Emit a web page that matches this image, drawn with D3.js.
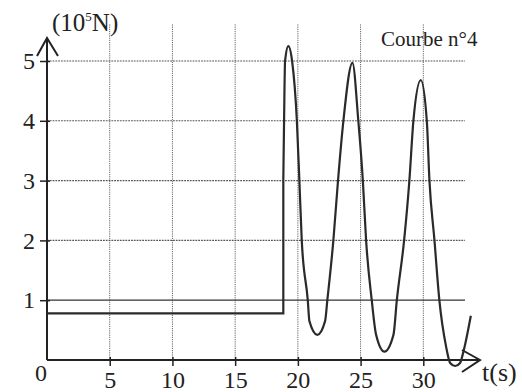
<!DOCTYPE html>
<html>
<head>
<meta charset="utf-8">
<script src="https://cdn.jsdelivr.net/npm/d3@7"></script>
<style>
  body { margin: 0; background: #fff; }
  svg text { font-family: "Liberation Serif", "Times New Roman", serif; fill: #222; }
</style>
</head>
<body>
<div id="chart"></div>
<script>
// tick values
var xTicks = [5, 10, 15, 20, 25, 30];
var yTicks = [1, 2, 3, 4, 5];

// plateau before the release (t in s, F in 10^5 N)
var plateauT = [0, 18.84, 18.84];
var plateauF = [0.78, 0.78, 3.0];

// oscillation
var oscT = [18.84, 18.90, 18.98, 19.24, 19.54, 19.92, 20.12, 20.31, 20.79, 20.92, 21.55, 22.17, 22.35, 22.83, 23.20, 23.63, 24.35, 24.82, 25.18, 25.44, 25.89, 26.24, 26.90, 27.62, 27.89, 28.47, 28.89, 29.21, 29.80, 30.28, 30.49, 30.89, 31.28, 31.82, 32.14, 32.54, 32.93, 33.20, 33.79];
var oscF = [3.0, 4.0, 5.0, 5.25, 5.0, 4.0, 3.0, 2.0, 1.0, 0.65, 0.42, 0.65, 1.0, 2.0, 3.0, 4.0, 4.97, 4.0, 3.0, 2.0, 1.0, 0.42, 0.14, 0.42, 1.0, 2.0, 3.0, 4.0, 4.68, 4.0, 3.0, 2.0, 1.0, 0.22, -0.05, -0.1, -0.05, 0.14, 0.74];

var width = 522, height = 392;

var svg = d3.select("#chart").append("svg")
    .attr("width", width)
    .attr("height", height);

svg.append("rect").attr("width", width).attr("height", height).attr("fill", "#fff");

var x = d3.scaleLinear().domain([0, 30]).range([47, 423.3]);
var y = d3.scaleLinear().domain([0, 5]).range([360, 61]);

var gridTop = 24, gridRight = 465;
var serif = "Liberation Serif, Times New Roman, serif";

// grid
svg.selectAll(".vgrid")
    .data(xTicks)
  .enter().append("line")
    .attr("class", "vgrid")
    .attr("x1", function(d) { return x(d); })
    .attr("x2", function(d) { return x(d); })
    .attr("y1", y(0))
    .attr("y2", gridTop)
    .attr("stroke", "#666")
    .attr("stroke-width", 1)
    .attr("stroke-dasharray", "1.2,1");

svg.selectAll(".hgrid")
    .data(yTicks)
  .enter().append("line")
    .attr("class", "hgrid")
    .attr("x1", x(0))
    .attr("x2", gridRight)
    .attr("y1", function(d) { return y(d); })
    .attr("y2", function(d) { return y(d); })
    .attr("stroke", function(d) { return d == 1 ? "#333" : "#555"; })
    .attr("stroke-width", function(d) { return d == 1 ? 1.3 : 1.1; })
    .attr("stroke-dasharray", function(d) { return d == 1 ? null : "1.8,1"; });

// axes (ticks + labels)
var xAxis = svg.append("g")
    .attr("transform", "translate(0," + y(0) + ")")
    .call(d3.axisBottom(x).tickValues(xTicks).tickSize(6).tickPadding(5).tickFormat(d3.format("d")));
xAxis.attr("font-family", serif).attr("font-size", 24);
xAxis.select(".domain").remove();
xAxis.selectAll("line").attr("stroke", "#222").attr("stroke-width", 1.5).attr("y1", -3);
xAxis.selectAll("text").attr("fill", "#222");

var yAxis = svg.append("g")
    .attr("transform", "translate(" + x(0) + ",0)")
    .call(d3.axisLeft(y).tickValues(yTicks).tickSize(7).tickPadding(5).tickFormat(d3.format("d")));
yAxis.attr("font-family", serif).attr("font-size", 24);
yAxis.select(".domain").remove();
yAxis.selectAll("line").attr("stroke", "#222").attr("stroke-width", 1.5).attr("x1", 3);
yAxis.selectAll("text").attr("fill", "#222");

// axis lines with open arrows
var axisG = svg.append("g").attr("stroke", "#222").attr("fill", "none").attr("stroke-width", 2);
axisG.append("line").attr("x1", x(0)).attr("x2", 480).attr("y1", y(0)).attr("y2", y(0));
axisG.append("line").attr("x1", x(0)).attr("x2", x(0)).attr("y1", y(0)).attr("y2", 38);
axisG.append("path").attr("d", "M" + (x(0) - 10) + ",56L" + x(0) + ",38L" + (x(0) + 11) + ",56");
axisG.append("path").attr("d", "M462," + (y(0) - 10) + "L480," + y(0) + "L462," + (y(0) + 12));

// curve
var line = d3.line()
    .x(function(d) { return x(d[0]); })
    .y(function(d) { return y(d[1]); });

svg.append("path")
    .datum(d3.zip(plateauT, plateauF))
    .attr("d", line)
    .attr("fill", "none")
    .attr("stroke", "#2a2a2a")
    .attr("stroke-width", 2.2);

svg.append("path")
    .datum(d3.zip(oscT, oscF))
    .attr("d", line.curve(d3.curveMonotoneX))
    .attr("fill", "none")
    .attr("stroke", "#2a2a2a")
    .attr("stroke-width", 2.2);

// titles
svg.append("text")
    .attr("x", 41).attr("y", 381)
    .attr("text-anchor", "middle")
    .attr("font-size", "24px")
    .text("0");

var unit = svg.append("text")
    .attr("x", 52).attr("y", 31)
    .attr("font-size", "25px");
unit.append("tspan").text("(10");
unit.append("tspan").attr("font-size", "13px").attr("dy", -10).text("5");
unit.append("tspan").attr("dy", 10).text("N)");

svg.append("text")
    .attr("x", 482).attr("y", 381)
    .attr("font-size", "26px")
    .text("t(s)");

svg.append("text")
    .attr("x", 381).attr("y", 46)
    .attr("font-size", "21px")
    .text("Courbe n°4");
</script>
</body>
</html>
